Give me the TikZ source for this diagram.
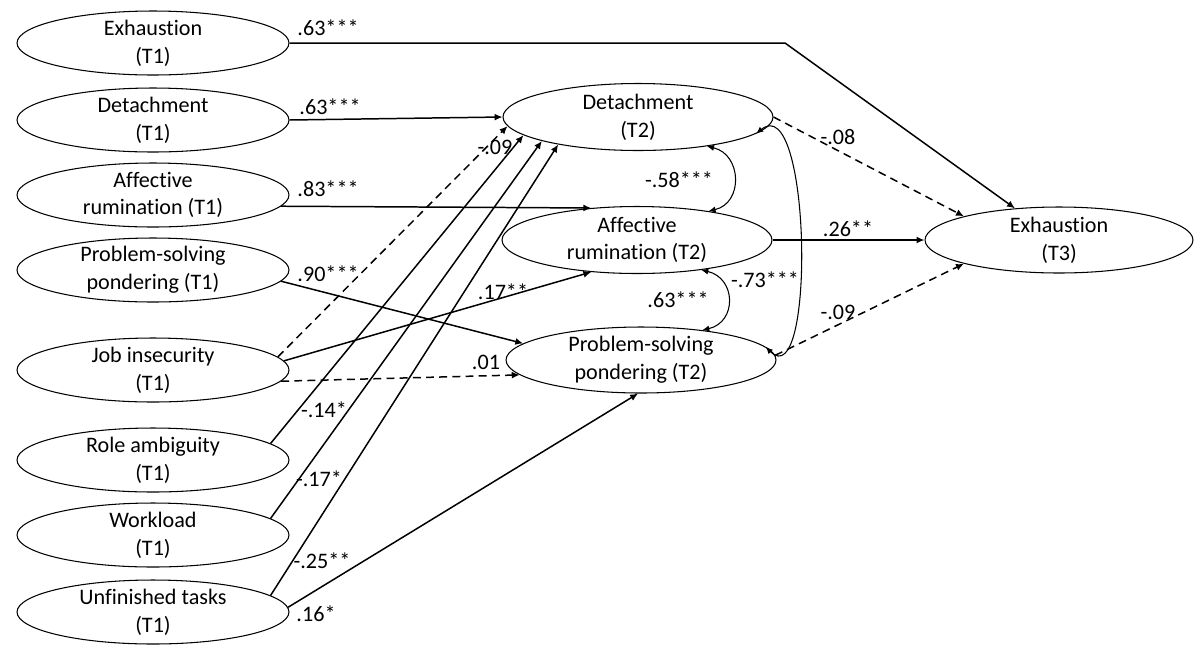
\documentclass[tikz,border=0pt]{standalone}
\usepackage{fontspec}
\setmainfont{Carlito}[Ligatures=NoCommon]
\usetikzlibrary{shapes.geometric,arrows.meta}

\begin{document}
\begin{tikzpicture}[x=0.02cm,y=-0.02cm,
every node/.style={font=\fontsize{12.6}{15.8}\selectfont},
var/.style={ellipse,draw,line width=0.6pt,minimum width=5.44cm,minimum height=1.28cm,
	inner xsep=0pt,inner ysep=-2pt,align=center},
eff/.style={line width=0.85pt,-{Latex[length=4.5pt,width=4pt]}},
neff/.style={eff,dash pattern=on 4.5pt off 3pt},
cov/.style={line width=0.6pt,{Latex[length=4pt,width=3.5pt]}-{Latex[length=4pt,width=3.5pt]}}]
\useasboundingbox (0,0) rectangle (1200,657);

%predictors at T1
\foreach \n/\y/\t in {e1/43/{Exhaustion\\(T1)},d1/120/{Detachment\\(T1)},
	a1/195/{Affective\\rumination (T1)},p1/270/{Problem-solving\\pondering (T1)},
	j1/370/{Job insecurity\\(T1)},r1/460/{Role ambiguity\\(T1)},
	w1/535/{Workload\\(T1)},u1/612/{Unfinished tasks\\(T1)}}
	\node[var] (\n) at (153,\y) {\t};

%mediators at T2 and outcome at T3
\node[var,minimum width=5.4cm,minimum height=1.34cm] (d2) at (638,117) {Detachment\\(T2)};
\node[var,minimum width=5.4cm,minimum height=1.34cm] (a2) at (637,240) {Affective\\rumination (T2)};
\node[var,minimum width=5.4cm,minimum height=1.32cm] (p2) at (641,360) {Problem-solving\\pondering (T2)};
\node[var,minimum width=5.36cm,minimum height=1.32cm] (e3) at (1059,240) {Exhaustion\\(T3)};
\coordinate (bend) at (785,43);

%paths
\draw[eff] (e1.east) -- (bend) -- (e3);
\draw[eff] (d1.east) -- (d2.west);
\draw[eff] (a1.-5) -- (a2.145);
\draw[eff] (p1.-5) -- (p2.172);
\draw[neff] (j1.6) -- (d2.184);
\draw[eff] (j1.4) -- (a2.215);
\draw[neff] (j1.-5) -- (p2.187);
\draw[eff] (r1.8) -- (d2.189);
\draw[eff] (w1.8) -- (d2.194);
\draw[eff] (u1.8) -- (d2.199);
\draw[eff] (u1.2) -- (p2.265);
\draw[neff] (d2.east) -- (e3.166);
\draw[eff] (a2.east) -- (e3.west);
\draw[neff] (p2.2) -- (e3.194);

%covariances
\draw[cov] (d2.-23) .. controls +(35,8) and +(35,-8) .. (a2.22);
\draw[cov] (a2.-25) .. controls +(35,8) and +(35,-8) .. (p2.26);
\draw[cov] (d2.-8) .. controls +(55,-45) and +(50,50) .. (p2.6);

%coefficients
\node (c1) at (328,28) {.63***};
\node (c2) at (330,107) {.63***};
\node (c3) at (328,189) {.83***};
\node (c4) at (328,274) {.90***};
\node (c5) at (495,147) {-.09};
\node (c6) at (503,292) {.17**};
\node (c7) at (486,362) {.01};
\node (c8) at (324,410) {-.14*};
\node (c9) at (319,479) {-.17*};
\node (c10) at (322,561) {-.25**};
\node (c11) at (316,614) {.16*};
\node (c12) at (838,137) {-.08};
\node (c13) at (848,229) {.26**};
\node (c14) at (838,312) {-.09};
\node (c15) at (679,180) {-.58***};
\node (c16) at (678,300) {.63***};
\node (c17) at (765,280) {-.73***};
\end{tikzpicture}
\end{document}
